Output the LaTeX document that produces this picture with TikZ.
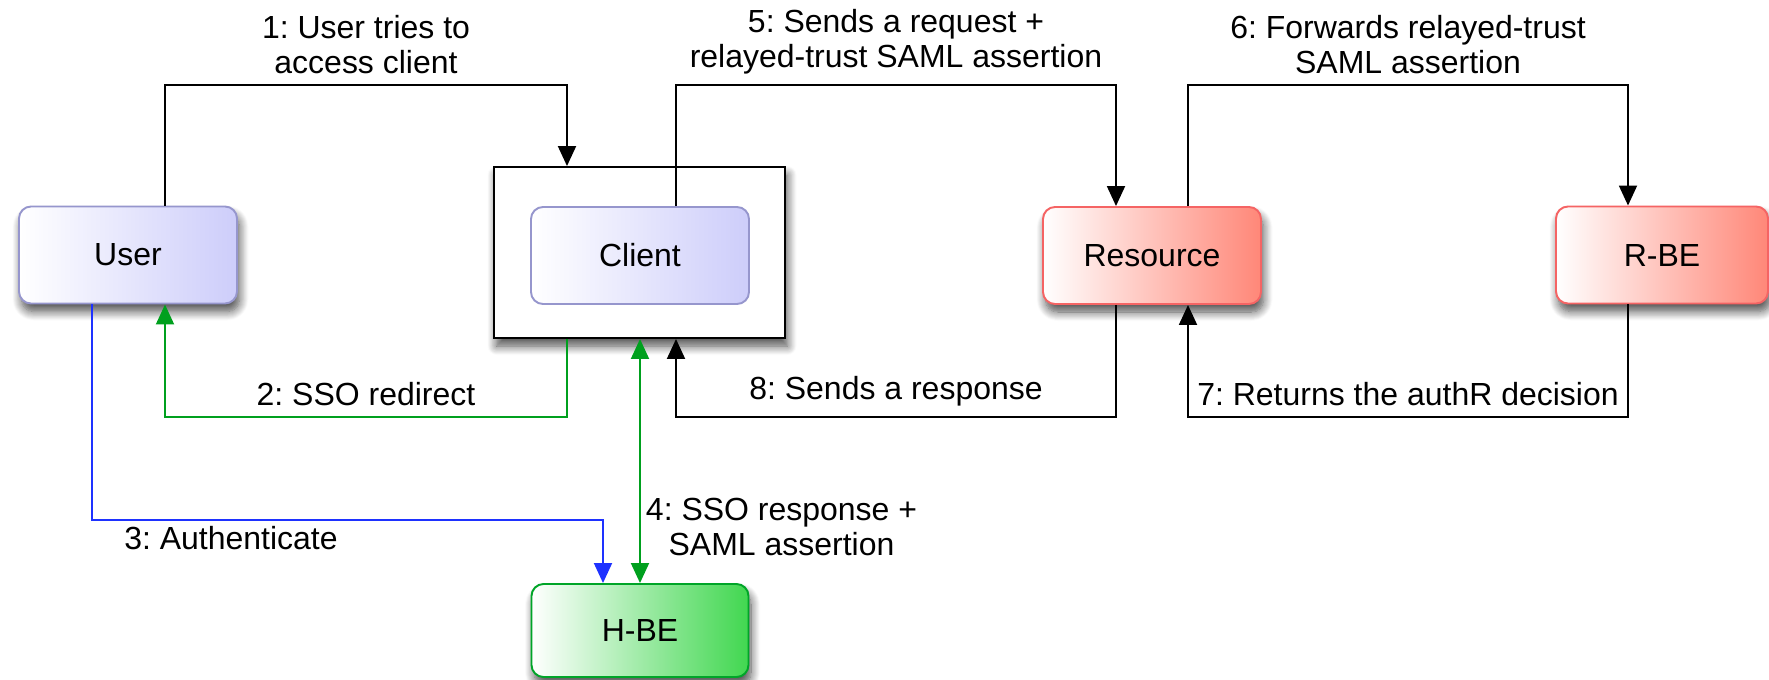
\documentclass[tikz,border=0pt]{standalone}
\usepackage{fontspec}
\setmainfont{Liberation Sans}
\frenchspacing
\usetikzlibrary{arrows.meta,positioning,shadows.blur}

\definecolor{userline}{RGB}{150,150,205}
\definecolor{userfill}{RGB}{205,205,250}
\definecolor{resline}{RGB}{245,100,100}
\definecolor{resfill}{RGB}{255,135,120}
\definecolor{hbeline}{RGB}{0,165,40}
\definecolor{hbefill}{RGB}{65,215,80}
\definecolor{ssogreen}{RGB}{0,160,30}
\definecolor{authblue}{RGB}{30,50,255}

\begin{document}
\begin{tikzpicture}[
    >={Triangle[length=0.4cm, width=0.36cm]},
    every node/.style={font=\fontsize{18.2}{20}\selectfont},
    softshadow/.style={blur shadow={shadow xshift=0.05cm, shadow yshift=-0.16cm,
      shadow blur radius=0.18cm, shadow blur steps=10, shadow opacity=70}},
    party/.style={draw, rounded corners=0.24cm, line width=1.1pt,
      minimum width=4.36cm, minimum height=1.94cm, shading=axis, left color=white},
    home/.style={party, draw=userline, right color=userfill},
    remote/.style={party, draw=resline, right color=resfill, softshadow},
    idp/.style={party, draw=hbeline, right color=hbefill, softshadow},
    wrapbox/.style={draw, line width=1.1pt, fill=white, minimum width=5.82cm, minimum height=3.42cm, softshadow},
    msg/.style={->, line width=1.1pt},
    twoway/.style={<->, line width=1.1pt},
    lbl/.style={align=center, inner sep=0.2cm, text=black}
  ]
    \useasboundingbox (0,0) rectangle (35.38,-13.6);

    % parties
    \node[home, softshadow] (user) at (2.56,-5.10) {User};
    \node[wrapbox] (wrap) at (12.79,-5.05) {};
    \node[home] (client) at (12.80,-5.11) {Client};
    \node[remote] (res) at (23.04,-5.11) {Resource};
    \node[remote, minimum width=4.24cm] (rbe) at (33.24,-5.10) {R-BE};
    \node[idp, minimum width=4.34cm, minimum height=1.86cm] (hbe) at (12.80,-12.61) {H-BE};

    % turning heights
    \coordinate (top) at (0,-1.70);
    \coordinate (mid) at (0,-8.34);
    \coordinate (low) at (0,-10.4);

    % 1 and 2: user <-> client
    \draw[msg] ([xshift=0.74cm]user.north) -- ([xshift=0.74cm]user.north |- top)
      -- node[lbl, above]{1: User tries to\\access client} ([xshift=-1.45cm]wrap.north |- top)
      -- ([xshift=-1.45cm]wrap.north);
    \draw[msg, ssogreen] ([xshift=-1.45cm]wrap.south) -- ([xshift=-1.45cm]wrap.south |- mid)
      -- node[lbl, above]{2: SSO redirect} ([xshift=0.74cm]user.south |- mid)
      -- ([xshift=0.74cm]user.south);

    % 3 and 4: home back-end
    \draw[msg, authblue] ([xshift=-0.72cm]user.south) -- ([xshift=-0.72cm]user.south |- low)
      -- node[lbl, below, inner sep=0.1cm, pos=0.272]{3: Authenticate} ([xshift=-0.74cm]hbe.north |- low)
      -- ([xshift=-0.74cm]hbe.north);
    \draw[twoway, ssogreen] (hbe.north |- wrap.south)
      -- node[lbl, right, inner sep=0.1cm, pos=0.77]{4: SSO response +\\SAML assertion} (hbe.north);

    % 5 and 8: client <-> resource
    \draw[msg] ([xshift=0.72cm]client.north) -- ([xshift=0.72cm]client.north |- top)
      -- node[lbl, above]{5: Sends a request +\\relayed-trust SAML assertion} ([xshift=-0.72cm]res.north |- top)
      -- ([xshift=-0.72cm]res.north);
    \draw[msg] ([xshift=-0.72cm]res.south) -- ([xshift=-0.72cm]res.south |- mid)
      -- node[lbl, above]{8: Sends a response} ([xshift=0.72cm]client.south |- mid)
      -- ([xshift=0.72cm]client.south |- wrap.south);

    % 6 and 7: resource <-> resource back-end
    \draw[msg] ([xshift=0.72cm]res.north) -- ([xshift=0.72cm]res.north |- top)
      -- node[lbl, above]{6: Forwards relayed-trust\\SAML assertion} ([xshift=-0.68cm]rbe.north |- top)
      -- ([xshift=-0.68cm]rbe.north);
    \draw[msg] ([xshift=-0.68cm]rbe.south) -- ([xshift=-0.68cm]rbe.south |- mid)
      -- node[lbl, above]{7: Returns the authR decision} ([xshift=0.72cm]res.south |- mid)
      -- ([xshift=0.72cm]res.south);
\end{tikzpicture}
\end{document}
